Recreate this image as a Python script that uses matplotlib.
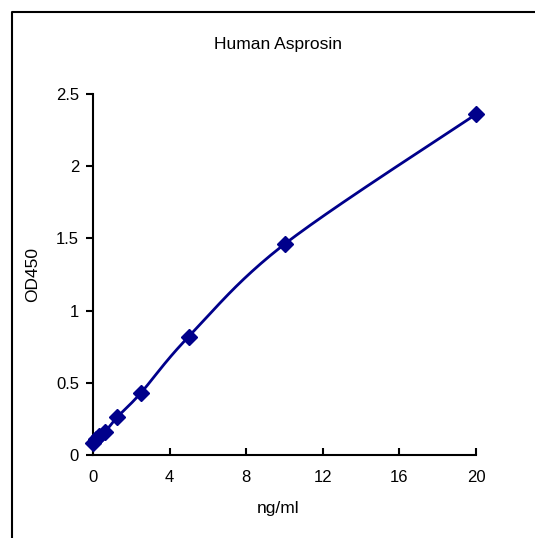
import numpy as np
import matplotlib
matplotlib.use("Agg")
import matplotlib.pyplot as plt
from matplotlib.lines import Line2D

plt.rcParams['font.family'] = ['Liberation Sans', 'DejaVu Sans']

title = "Human Asprosin"
x_label = "ng/ml"
y_label = "OD450"
conc = [0, 0.156, 0.3125, 0.625, 1.25, 2.5, 5, 10, 20]
od = [0.08, 0.11, 0.13, 0.16, 0.26, 0.43, 0.82, 1.46, 2.36]
x_ticks = [0, 4, 8, 12, 16, 20]
x_tick_labels = ["0", "4", "8", "12", "16", "20"]
y_ticks = [0, 0.5, 1, 1.5, 2, 2.5]
y_tick_labels = ["0", "0.5", "1", "1.5", "2", "2.5"]

color = "#00008B"


def smooth(xs, ys, n=40):
    # Excel-style smoothed line: Catmull-Rom through the points
    P = np.column_stack([xs, ys]).astype(float)
    P = np.vstack([P[0], P, P[-1]])
    out = []
    for i in range(1, len(P) - 2):
        p0, p1, p2, p3 = P[i - 1], P[i], P[i + 1], P[i + 2]
        c1 = p1 + (p2 - p0) / 6.0
        c2 = p2 - (p3 - p1) / 6.0
        t = np.linspace(0, 1, n)[:, None]
        seg = ((1 - t) ** 3) * p1 + 3 * ((1 - t) ** 2) * t * c1 + 3 * (1 - t) * t ** 2 * c2 + t ** 3 * p2
        out.append(seg)
    out = np.vstack(out)
    return out[:, 0], out[:, 1]


W, H = 535, 538
fig = plt.figure(figsize=(W / 100, H / 100), dpi=100)
ax = fig.add_axes([93 / W, 1 - 455 / H, (476 - 93) / W, (455 - 94) / H])

sx, sy = smooth(conc, od)
ax.plot(sx, sy, color=color, lw=2.0, zorder=2, clip_on=False)
ax.plot(conc, od, linestyle='none', marker='D', markersize=8.5, color=color, zorder=3, clip_on=False)

ax.set_xlim(0, 20)
ax.set_ylim(0, 2.5)
ax.set_xticks(x_ticks)
ax.set_xticklabels(x_tick_labels)
ax.set_yticks(y_ticks)
ax.set_yticklabels(y_tick_labels)
for s in ['top', 'right']:
    ax.spines[s].set_visible(False)
for s in ['left', 'bottom']:
    ax.spines[s].set_linewidth(1.5)
ax.tick_params(axis='x', direction='in', length=5, width=1.5, labelsize=12, pad=11)
ax.tick_params(axis='y', direction='out', length=5, width=1.5, labelsize=12, pad=5)

fig.text(278 / W, 1 - 45 / H, title, ha='center', va='center', fontsize=12.5)
fig.text(278 / W, 1 - 509 / H, x_label, ha='center', va='center', fontsize=12.5)
fig.text(33 / W, 1 - 275 / H, y_label, ha='center', va='center', rotation=90, fontsize=12.5)

fig.add_artist(Line2D([12 / W, 12 / W, 1.0], [0.0, 1 - 12 / H, 1 - 12 / H],
                      transform=fig.transFigure, color='black', lw=1.5))

fig.savefig("out.png", dpi=100)
